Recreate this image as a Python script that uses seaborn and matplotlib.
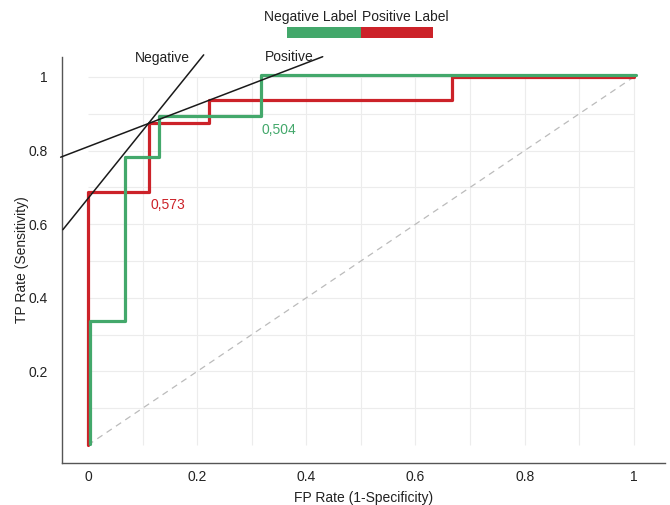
import numpy as np
import pandas as pd
import seaborn as sns
import matplotlib.pyplot as plt
import matplotlib.transforms as mtransforms
from matplotlib.patches import Rectangle

# ROC points (steps-post)
pos_fpr = [0, 0, 0.111, 0.222, 0.667, 1]
pos_tpr = [0, 0.6875, 0.875, 0.9375, 1, 1]
neg_fpr = [0, 0, 0.0625, 0.125, 0.3125, 1]
neg_tpr = [0, 0.333, 0.778, 0.889, 1, 1]

# tangent lines
neg_line_x = [-0.046, 0.212]
neg_line_y = [0.585, 1.06]
pos_line_x = [-0.05, 0.43]
pos_line_y = [0.782, 1.055]

diag = [0, 1]
x_ticks = [0, 0.2, 0.4, 0.6, 0.8, 1]
y_ticks = [0.2, 0.4, 0.6, 0.8, 1]
grid_vals = [0.1, 0.2, 0.3, 0.4, 0.5, 0.6, 0.7, 0.8, 0.9, 1.0]

GREEN = '#43a86b'
RED = '#cc2229'

sns.set_theme(style='white')
plt.rcParams['font.family'] = ['Liberation Sans', 'DejaVu Sans']

fig = plt.figure(figsize=(6.7, 5.05), dpi=100)
ax = fig.add_axes([0.0925, 0.083, 0.9, 0.804])

# light grid within the unit square
ax.hlines(grid_vals, 0, 1, color='#ececec', linewidth=0.8, zorder=0)
ax.vlines(grid_vals, 0, 1, color='#ececec', linewidth=0.8, zorder=0)

ax.plot(diag, diag, color='#bbbbbb', linestyle=(0, (5, 4)), linewidth=0.9, zorder=1)

df = pd.concat([
    pd.DataFrame({'fpr': pos_fpr, 'tpr': pos_tpr, 'label': 'Positive'}),
    pd.DataFrame({'fpr': neg_fpr, 'tpr': neg_tpr, 'label': 'Negative'}),
])
sns.lineplot(data=df, x='fpr', y='tpr', hue='label', palette={'Positive': RED, 'Negative': GREEN},
             estimator=None, sort=False, drawstyle='steps-post', linewidth=2.3, legend=False, ax=ax)

# the green curve is nudged a couple of pixels so it doesn't hide the red one
green_line = ax.lines[-1]
green_line.set_transform(mtransforms.offset_copy(ax.transData, fig=fig, x=2.5, y=1.5, units='dots'))
green_line.set_zorder(3)
ax.lines[-2].set_zorder(2)

ax.plot(neg_line_x, neg_line_y, color='#1a1a1a', linewidth=1.1, zorder=4, clip_on=False)
ax.plot(pos_line_x, pos_line_y, color='#1a1a1a', linewidth=1.1, zorder=4, clip_on=False)

ax.text(0.136, 1.052, 'Negative', fontsize=10, color='#222222', ha='center', va='center')
ax.text(0.368, 1.054, 'Positive', fontsize=10, color='#222222', ha='center', va='center')
ax.text(0.114, 0.652, '0,573', fontsize=10, color=RED, ha='left', va='center')
ax.text(0.318, 0.857, '0,504', fontsize=10, color=GREEN, ha='left', va='center')

ax.set_xlim(-0.0476, 1.057)
ax.set_ylim(-0.049, 1.054)
ax.set_xticks(x_ticks)
ax.set_xticklabels([f'{v:g}' for v in x_ticks])
ax.set_yticks(y_ticks)
ax.set_yticklabels([f'{v:g}' for v in y_ticks])
ax.tick_params(axis='x', length=0, labelsize=10, colors='#222222', pad=5)
ax.tick_params(axis='y', length=0, labelsize=10, colors='#222222', pad=10)
ax.set_xlabel('FP Rate (1-Specificity)', fontsize=10, color='#222222', labelpad=5)
ax.set_ylabel('TP Rate (Sensitivity)', fontsize=10, color='#222222', labelpad=0)

for side in ['top', 'right']:
    ax.spines[side].set_visible(False)
for side in ['left', 'bottom']:
    ax.spines[side].set_color('#555555')
    ax.spines[side].set_linewidth(1.0)

# legend bar on top
fig.patches.append(Rectangle((287 / 670, 1 - 38 / 505), 74 / 670, 11 / 505, transform=fig.transFigure,
                             facecolor=GREEN, edgecolor='none'))
fig.patches.append(Rectangle((361 / 670, 1 - 38 / 505), 72 / 670, 11 / 505, transform=fig.transFigure,
                             facecolor=RED, edgecolor='none'))
fig.text(310 / 670, 1 - 17 / 505, 'Negative Label', fontsize=10, color='#222222', ha='center', va='center')
fig.text(405 / 670, 1 - 17 / 505, 'Positive Label', fontsize=10, color='#222222', ha='center', va='center')

fig.savefig('out.png', dpi=100)
